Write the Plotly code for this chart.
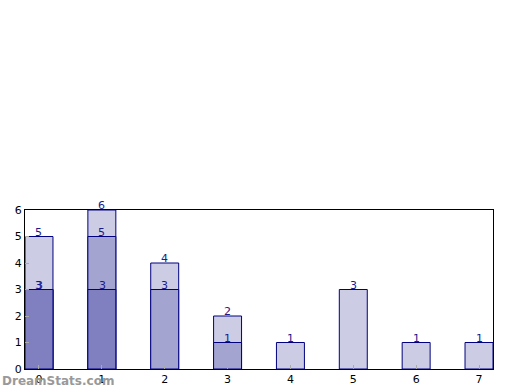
import plotly.graph_objects as go

categories = [0, 1, 2, 3, 4, 5, 6, 7]
series_light = [5, 6, 4, 2, 1, 3, 1, 1]
series_medium = [3, 5, 3, 1, 0, 0, 0, 0]
series_dark = [3, 3, 0, 0, 0, 0, 0, 0]
y_ticks = [0, 1, 2, 3, 4, 5, 6]

fig = go.Figure()
colors = ["rgb(204,204,228)", "rgb(164,164,208)", "rgb(128,128,192)"]
for vals, col in zip([series_light, series_medium, series_dark], colors):
    xs = [c for c, v in zip(categories, vals) if v > 0]
    ys = [v for v in vals if v > 0]
    fig.add_trace(go.Bar(x=xs, y=ys, width=0.445, marker=dict(color=col, line=dict(color="#000080", width=1)),
                         showlegend=False, hoverinfo="skip"))

annotations = []
for k, vals in enumerate([series_light, series_medium, series_dark]):
    for c, v in zip(categories, vals):
        if v > 0:
            annotations.append(dict(x=c, y=v, xref="x", yref="y", text=str(v), showarrow=False,
                                    xanchor="center", yanchor="bottom", yshift=-4,
                                    xshift=(0.8 if k == 2 else 0),
                                    font=dict(family="DejaVu Sans", size=11, color="#1a1a8c")))
annotations.append(dict(text="<b>DreamStats.com</b>", x=0, y=0, xref="paper", yref="paper",
                        xanchor="left", yanchor="top", xshift=-25, yshift=-3, showarrow=False,
                        font=dict(family="DejaVu Sans", size=12, color="#999999")))

fig.update_layout(
    barmode="overlay", width=520, height=390,
    margin=dict(l=25, r=27, t=210, b=21),
    plot_bgcolor="white", paper_bgcolor="white",
    font=dict(family="DejaVu Sans", size=11, color="black"),
    xaxis=dict(range=[-0.2225, 7.2225], tickvals=categories, showgrid=False, zeroline=False,
               showline=True, linecolor="black", linewidth=1, mirror=True, automargin=False,
               ticks="inside", ticklen=4, tickcolor="#aaaaaa", tickfont=dict(size=11)),
    yaxis=dict(range=[0, 6], tickvals=y_ticks, showgrid=False, zeroline=False,
               showline=True, linecolor="black", linewidth=1, mirror=True, automargin=False,
               ticks="inside", ticklen=4, tickcolor="#aaaaaa", tickfont=dict(size=11)),
    annotations=annotations,
)
fig.write_html("out.html", config={"displayModeBar": False},
               post_script="document.body.style.margin='0';")
